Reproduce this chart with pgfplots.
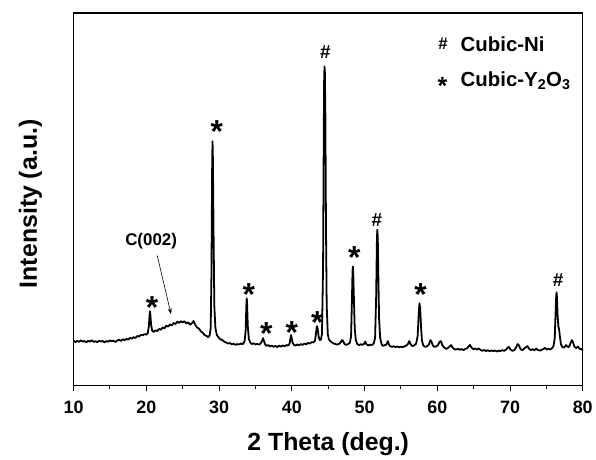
\documentclass[border=0pt]{standalone}
\usepackage{fontspec}
\setmainfont{Liberation Sans}
\usepackage{pgfplots}
\pgfplotsset{compat=1.18}
\usetikzlibrary{arrows.meta}

\tikzset{
  xstar/.style={font=\fontsize{32}{32}\selectfont\bfseries, anchor=base, yshift=-18pt, inner sep=0pt},
  xhash/.style={font=\fontsize{19}{19}\selectfont\bfseries, anchor=center, inner sep=0pt},
}

\begin{document}
\begin{tikzpicture}
\begin{axis}[
    name=ax,
    width=512pt, height=375pt, scale only axis,
    xmin=10, xmax=80, ymin=0, ymax=375,
    xtick={10,20,...,80}, minor x tick num=1,
    ytick=\empty,
    xtick pos=bottom,
    tick align=outside,
    major tick length=5.5pt, minor tick length=3pt,
    every tick/.style={black, line width=1pt},
    axis line style={line width=1.2pt},
    /pgf/number format/assume math mode=true,
    tick label style={font=\fontsize{18}{18}\selectfont\bfseries},
    xticklabel style={anchor=base, yshift=-22pt},
    label style={font=\fontsize{25}{25}\selectfont\bfseries},
    xlabel={2 Theta (deg.)},
    ylabel={Intensity (a.u.)},
    xlabel style={at={([yshift=-65pt]axis description cs:0.5,0)}, anchor=base},
    ylabel style={at={([xshift=-37pt]axis description cs:0,0.488)}, anchor=base},
    clip=false,
  ]
  % XRD pattern (heights)
  \addplot[black, line width=1.8pt, line join=round] coordinates {
    (10.00,45.5) (10.25,44.0) (10.5,45.2) (10.75,44.3) (11.0,45.8) (11.25,44.6) (11.5,45.0) (11.75,43.8)
    (12.0,45.3) (12.25,44.5) (12.5,45.9) (12.75,44.2) (13.0,44.8) (13.25,43.9) (13.5,45.4) (13.75,44.6)
    (14.0,45.1) (14.25,43.7) (14.5,45.0) (14.75,44.4) (15.0,45.7) (15.25,44.9) (15.5,45.3) (15.75,44.1)
    (16.0,45.6) (16.25,46.4) (16.5,45.2) (16.75,46.8) (17.0,46.0) (17.25,47.2) (17.5,46.5) (17.75,48.3)
    (18.0,47.4) (18.25,48.9) (18.5,48.2) (18.75,50.1) (19.0,49.6) (19.25,51.3) (19.5,50.8) (19.75,52.0)
    (20.0,51.5) (20.2,53.0) (20.35,60) (20.45,72) (20.5,75) (20.55,72) (20.65,62) (20.8,55.5)
    (21.0,54.2) (21.25,55.8) (21.5,55.0) (21.75,57.2) (22.0,56.4) (22.25,58.8) (22.5,57.9) (22.75,60.5)
    (23.0,59.6) (23.25,61.8) (23.5,60.7) (23.75,63.2) (24.0,62.1) (24.25,64.6) (24.5,63.3) (24.75,65.0)
    (25.0,63.8) (25.25,64.9) (25.5,62.6) (25.75,63.9) (26.0,61.5) (26.25,62.8) (26.5,65.2) (26.75,61.0)
    (27.0,58.5) (27.25,57.6) (27.5,54.8) (27.75,53.5) (28.0,51.2) (28.25,50.3) (28.5,49.0) (28.7,50.5)
    (28.85,58) (28.95,110) (29.05,220) (29.1,246) (29.15,230) (29.25,150) (29.35,80) (29.5,58) (29.7,51)
    (30.0,48.2) (30.25,46.5) (30.5,45.8) (30.75,44.2) (31.0,43.5) (31.25,42.6) (31.5,43.0) (31.75,41.8)
    (32.0,42.4) (32.25,41.2) (32.5,42.0) (32.75,41.5) (33.0,42.6) (33.25,41.9) (33.5,44.5) (33.65,55)
    (33.75,80) (33.8,88) (33.85,84) (33.95,60) (34.1,47) (34.3,43.5) (34.5,42.0) (34.75,42.8)
    (35.0,41.6) (35.25,42.3) (35.5,41.4) (35.75,43.0) (35.95,46) (36.05,48) (36.15,45.5) (36.35,41.5)
    (36.5,40.2) (36.75,41.0) (37.0,39.6) (37.25,40.5) (37.5,39.3) (37.75,40.2) (38.0,39.0) (38.25,40.4)
    (38.5,39.5) (38.75,40.6) (39.0,39.8) (39.25,41.0) (39.5,40.5) (39.7,42.5) (39.82,48) (39.9,51)
    (39.98,48.5) (40.1,43.5) (40.3,41.2) (40.5,40.5) (40.75,41.6) (41.0,40.8) (41.25,42.0) (41.5,41.2)
    (41.75,42.5) (42.0,41.8) (42.25,43.2) (42.5,42.6) (42.75,44.0) (43.0,43.6) (43.2,45.5) (43.35,54)
    (43.45,60) (43.55,58) (43.7,49) (43.85,46) (44.0,46.5) (44.15,52) (44.3,120) (44.4,260)
    (44.45,310) (44.5,321) (44.55,315) (44.62,270) (44.7,160) (44.8,80) (44.95,52) (45.1,46.5)
    (45.3,45.0) (45.5,43.8) (45.75,42.6) (46.0,42.0) (46.25,41.5) (46.5,42.3) (46.75,44.0) (46.9,46)
    (47.05,45.2) (47.25,42.0) (47.5,41.2) (47.75,42.0) (48.0,43.5) (48.15,50) (48.25,80) (48.35,115)
    (48.4,120) (48.45,113) (48.55,85) (48.65,58) (48.8,46) (49.0,42.0) (49.25,41.0) (49.5,41.8)
    (49.75,41.2) (50.0,42.8) (50.1,44.5) (50.25,42.0) (50.5,40.6) (50.75,41.4) (51.0,41.0) (51.25,42.5)
    (51.45,48) (51.6,90) (51.7,145) (51.75,157) (51.82,150) (51.9,110) (52.0,68) (52.15,48)
    (52.35,42) (52.5,40.2) (52.75,40.8) (53.0,41.5) (53.2,45.0) (53.35,41.8) (53.5,40.0) (53.75,39.2)
    (54.0,39.8) (54.25,39.0) (54.5,39.6) (54.75,38.8) (55.0,39.4) (55.25,38.9) (55.5,39.8) (55.75,40.5)
    (56.0,42.5) (56.15,45.0) (56.35,41.6) (56.6,40.0) (56.85,40.8) (57.1,42.5) (57.3,50) (57.45,72)
    (57.55,83) (57.65,78) (57.78,58) (57.9,45) (58.1,40.5) (58.35,39.2) (58.6,39.8) (58.85,41.5)
    (59.05,46) (59.2,44.5) (59.4,40.5) (59.6,39.2) (59.85,39.6) (60.1,41.0) (60.35,44.5) (60.5,45.0)
    (60.7,40.8) (60.95,38.5) (61.2,37.2) (61.45,38.0) (61.7,39.5) (61.9,41.0) (62.1,38.5) (62.35,37.0)
    (62.6,36.4) (62.85,37.3) (63.1,36.2) (63.35,37.0) (63.6,36.0) (63.85,37.2) (64.1,37.8) (64.35,40.0)
    (64.5,41.2) (64.7,38.5) (64.95,37.0) (65.2,37.5) (65.45,36.3) (65.7,37.6) (65.95,36.1) (66.2,35.3)
    (66.45,36.0) (66.7,35.0) (66.95,35.8) (67.2,34.8) (67.45,35.6) (67.7,34.9) (67.95,35.5) (68.2,34.6)
    (68.45,35.4) (68.7,35.0) (68.95,35.9) (69.2,35.2) (69.45,36.4) (69.7,38.5) (69.85,39.2) (70.05,36.6)
    (70.3,35.2) (70.55,35.8) (70.8,38.0) (71.05,42.0) (71.2,41.0) (71.45,37.0) (71.7,35.8) (71.95,37.5)
    (72.2,39.0) (72.4,40.0) (72.6,37.4) (72.85,36.0) (73.1,36.8) (73.35,35.7) (73.6,37.5) (73.85,36.0)
    (74.1,35.4) (74.35,36.3) (74.6,37.0) (74.8,38.2) (75.05,36.5) (75.3,37.4) (75.55,36.6) (75.8,38.0)
    (76.0,40.5) (76.15,48) (76.25,70) (76.35,90) (76.4,94) (76.45,90) (76.55,70) (76.65,60)
    (76.75,57) (76.85,50) (77.0,42) (77.2,39.0) (77.45,38.5) (77.7,41.0) (77.9,39.5) (78.1,39.0)
    (78.3,42.5) (78.5,46.0) (78.65,44.0) (78.85,39.5) (79.1,38.0) (79.35,39.5) (79.6,37.0) (79.8,37.4)
    (80.0,35.5)
  };

  % phase markers
  \node[xstar] at (axis cs:20.8,86) {*};
  \node[xstar] at (axis cs:29.7,263) {*};
  \node[xstar] at (axis cs:34.1,99) {*};
  \node[xstar] at (axis cs:36.5,60) {*};
  \node[xstar] at (axis cs:40.0,61) {*};
  \node[xstar] at (axis cs:43.5,71) {*};
  \node[xstar] at (axis cs:48.6,136) {*};
  \node[xstar] at (axis cs:57.7,99) {*};
  \node[xhash] at (axis cs:44.6,336) {\#};
  \node[xhash] at (axis cs:51.7,167) {\#};
  \node[xhash] at (axis cs:76.6,106) {\#};

  \node[font=\fontsize{17}{17}\selectfont\bfseries] at (axis cs:20.66,146) {C(002)};
  \draw[-{Stealth[length=6pt,width=4pt]}, line width=0.6pt] (axis cs:21.5,131) -- (axis cs:23.4,72);

  % legend
  \node[font=\fontsize{17}{17}\selectfont\bfseries, inner sep=0pt] at (axis cs:60.8,344) {\#};
  \node[font=\fontsize{20.5}{20.5}\selectfont\bfseries, anchor=base west, inner sep=0pt] at (axis cs:63.2,336) {Cubic-Ni};
  \node[font=\fontsize{25}{25}\selectfont\bfseries, anchor=base, yshift=-14pt, inner sep=0pt] at (axis cs:60.7,307) {*};
  \node[font=\fontsize{20.5}{20.5}\selectfont\bfseries, anchor=base west, inner sep=0pt] at (axis cs:63.2,301) {Cubic-Y\textsubscript{2}O\textsubscript{3}};
\end{axis}
\path ([xshift=-74pt,yshift=-70pt]ax.south west) rectangle ([xshift=10pt,yshift=13pt]ax.north east);
\end{tikzpicture}
\end{document}
